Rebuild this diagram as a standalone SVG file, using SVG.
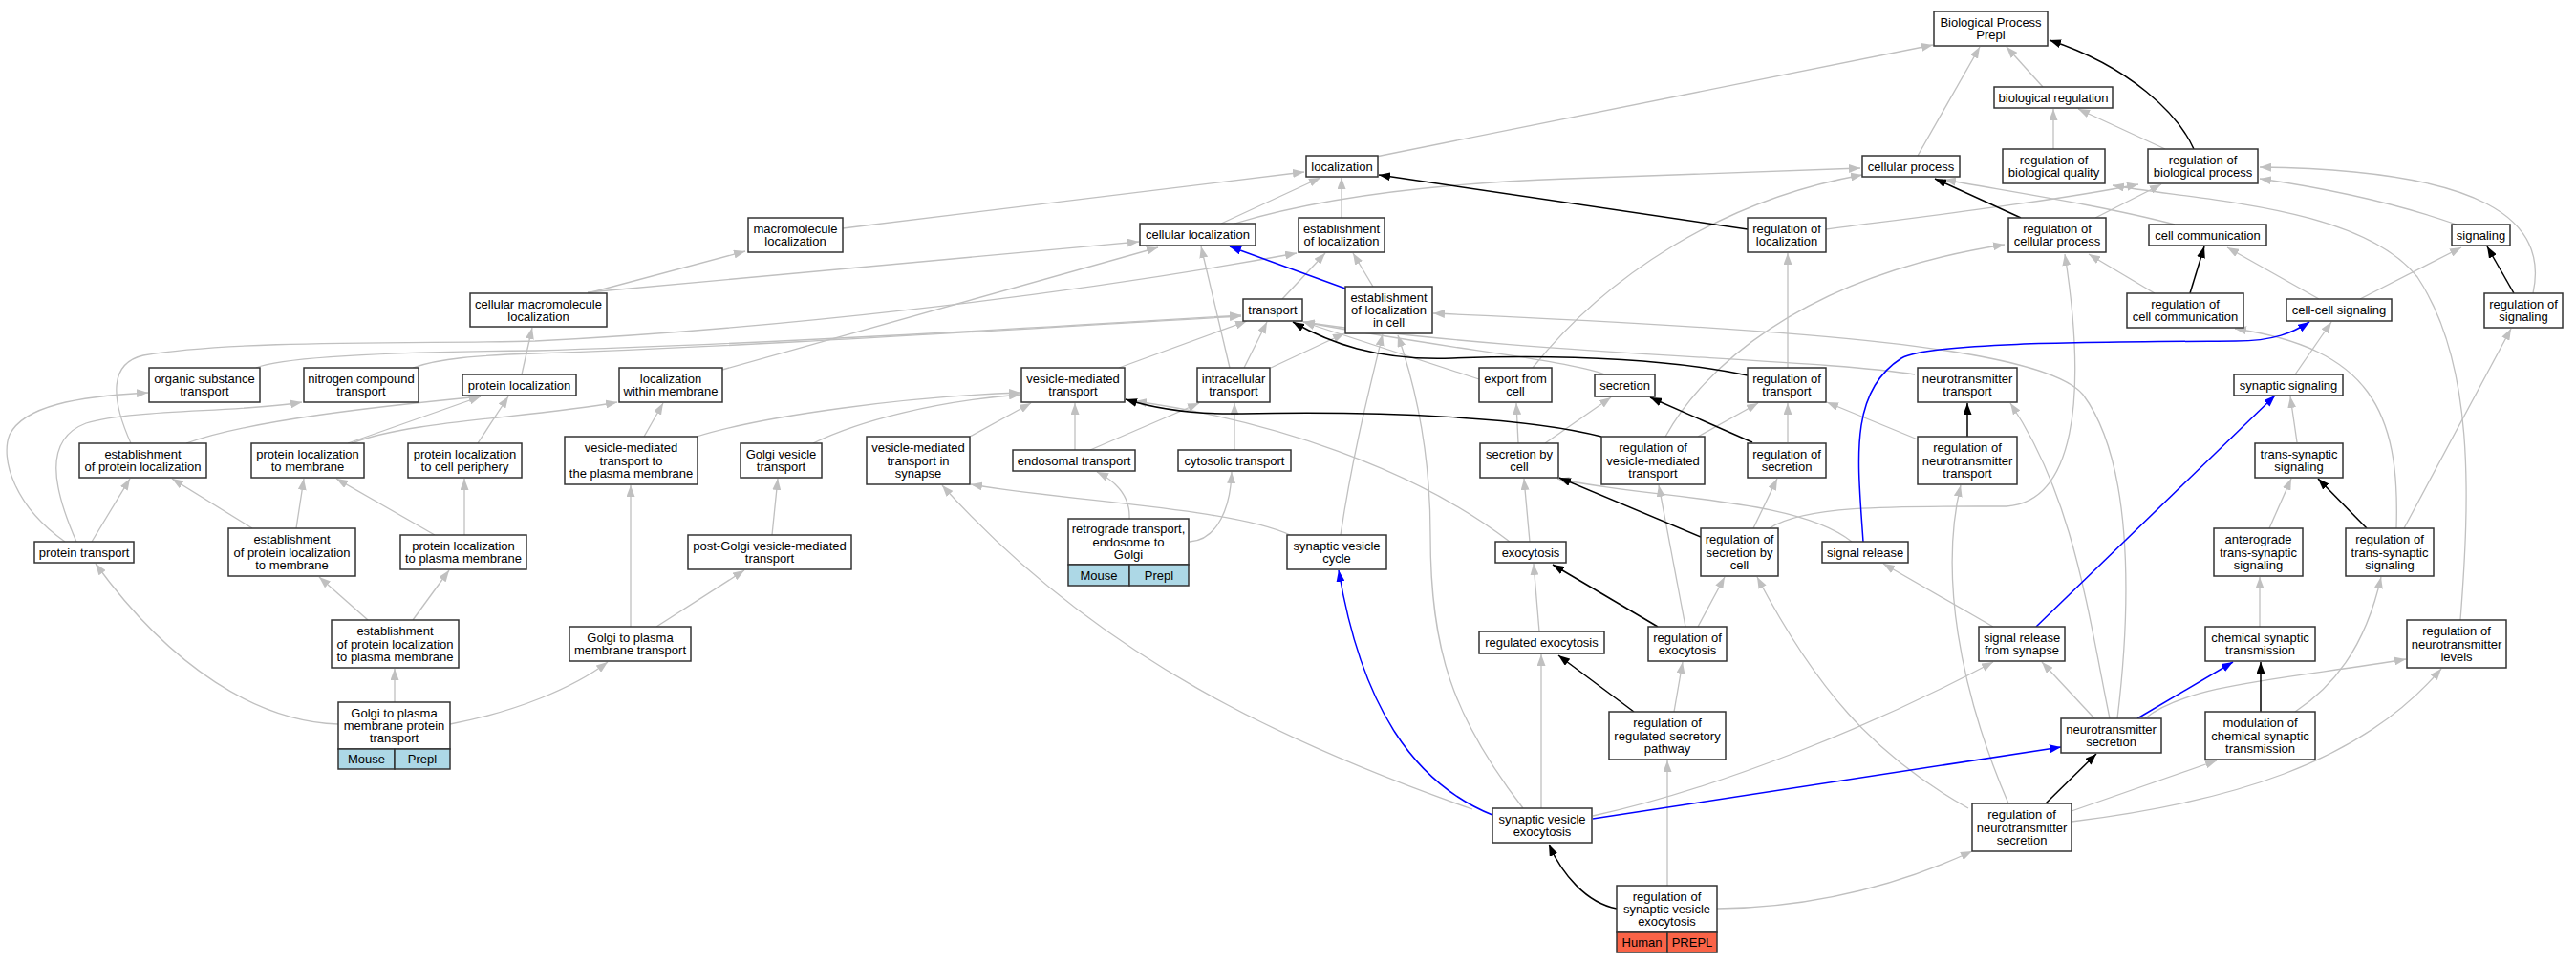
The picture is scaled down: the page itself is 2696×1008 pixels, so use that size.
<svg xmlns="http://www.w3.org/2000/svg" width="2696" height="1008" viewBox="0 0 2696 1008">
<defs>
<style>
.n rect{fill:#fff;stroke:#333;stroke-width:1.5}
.n rect.mb{fill:#add8e6}
.n rect.hr{fill:#fa6347}
text{font-family:"Liberation Sans",Arial,sans-serif;font-size:13px;text-anchor:middle;fill:#000}
#edges path{fill:none}
.g{stroke:#c0c0c0;stroke-width:1.3;marker-end:url(#ag)}
.k{stroke:#000;stroke-width:1.5;marker-end:url(#ak)}
.u{stroke:#0000ff;stroke-width:1.5;marker-end:url(#au)}
</style>
<marker id="ag" viewBox="0 0 12 9" refX="12" refY="4.5" markerUnits="userSpaceOnUse" markerWidth="12" markerHeight="9" orient="auto"><path d="M0,0L12,4.5L0,9z" fill="#c0c0c0"/></marker>
<marker id="ak" viewBox="0 0 12 9" refX="12" refY="4.5" markerUnits="userSpaceOnUse" markerWidth="12" markerHeight="9" orient="auto"><path d="M0,0L12,4.5L0,9z" fill="#000"/></marker>
<marker id="au" viewBox="0 0 12 9" refX="12" refY="4.5" markerUnits="userSpaceOnUse" markerWidth="12" markerHeight="9" orient="auto"><path d="M0,0L12,4.5L0,9z" fill="#0000ff"/></marker>
</defs>
<rect width="2696" height="1008" fill="#fff"/>
<g id="edges">
<path class="g" d="M1440,164L2023,47"/>
<path class="g" d="M2007,163L2072,49"/>
<path class="g" d="M2138,91L2100,49"/>
<path class="g" d="M2149,156L2149,114"/>
<path class="g" d="M2266,156L2175,114"/>
<path class="g" d="M882,239L1365,180"/>
<path class="g" d="M1278,234L1382,186"/>
<path class="g" d="M1404,228L1404,186"/>
<path class="g" d="M1292,234Q1420,195 1640,187L1947,176"/>
<path class="g" d="M2193,228L2262,193"/>
<path class="g" d="M1911,240C2050,222 2150,210 2238,193"/>
<path class="g" d="M2276,235C2200,215 2100,200 2035,188"/>
<path class="g" d="M2575,649C2585,520 2590,380 2530,290C2470,215 2300,210 2211,194"/>
<path class="g" d="M2651,307C2668,230 2600,178 2365,175"/>
<path class="g" d="M2571,235C2500,210 2420,195 2365,187"/>
<path class="g" d="M2255,307L2186,266"/>
<path class="g" d="M2427,313L2331,259"/>
<path class="g" d="M2470,313L2576,259"/>
<path class="g" d="M2402,392L2440,337"/>
<path class="g" d="M2404,463L2397,415"/>
<path class="g" d="M2375,553L2398,501"/>
<path class="g" d="M2508,553C2512,430 2480,365 2339,344"/>
<path class="g" d="M2516,553L2628,344"/>
<path class="g" d="M2365,656L2365,604"/>
<path class="g" d="M2402,745C2440,720 2475,680 2492,604"/>
<path class="g" d="M2245,752C2290,715 2400,710 2518,690"/>
<path class="g" d="M2192,752L2137,693"/>
<path class="g" d="M2168,849L2320,796"/>
<path class="g" d="M2168,860C2330,840 2470,800 2555,700"/>
<path class="g" d="M2086,656L1971,590"/>
<path class="g" d="M1667,854C1800,825 1960,760 2086,693"/>
<path class="g" d="M2060,846C1960,790 1900,720 1839,604"/>
<path class="g" d="M2102,841C2050,720 2030,600 2052,508"/>
<path class="g" d="M1797,951C1900,950 1990,925 2064,891"/>
<path class="g" d="M1745,927L1745,796"/>
<path class="g" d="M1613,846L1613,685"/>
<path class="g" d="M1752,745L1761,693"/>
<path class="g" d="M1611,661L1605,590"/>
<path class="g" d="M1777,656L1805,604"/>
<path class="g" d="M1764,656L1736,508"/>
<path class="g" d="M1601,567L1595,501"/>
<path class="g" d="M1938,567C1880,520 1720,522 1630,501"/>
<path class="g" d="M1589,464L1587,422"/>
<path class="g" d="M1617,464L1686,416"/>
<path class="g" d="M1835,553L1860,501"/>
<path class="g" d="M1548,397L1364,337"/>
<path class="g" d="M1680,392C1640,377 1520,366 1364,337"/>
<path class="g" d="M2004,392C1900,375 1600,372 1364,337"/>
<path class="g" d="M1852,553C1890,528 1990,530 2100,530C2170,525 2185,420 2161,266"/>
<path class="g" d="M1743,457C1780,390 1880,290 2098,256"/>
<path class="g" d="M1777,457L1840,422"/>
<path class="g" d="M1871,463L1871,422"/>
<path class="g" d="M2007,460L1912,421"/>
<path class="g" d="M1871,385L1871,265"/>
<path class="g" d="M1604,385C1680,290 1800,210 1949,183"/>
<path class="g" d="M1437,300L1416,265"/>
<path class="g" d="M1342,313L1387,265"/>
<path class="g" d="M1287,385L1257,258"/>
<path class="g" d="M1302,385L1326,337"/>
<path class="g" d="M1330,385L1407,349"/>
<path class="g" d="M1171,385L1305,336"/>
<path class="g" d="M1125,471L1125,422"/>
<path class="g" d="M1141,471L1255,422"/>
<path class="g" d="M1292,471L1292,422"/>
<path class="g" d="M1182,543C1183,520 1170,505 1148,494"/>
<path class="g" d="M1245,567C1275,565 1288,530 1289,494"/>
<path class="g" d="M1403,560C1415,480 1430,420 1447,350"/>
<path class="g" d="M1594,846C1520,750 1497,680 1497,560C1497,470 1480,400 1463,351"/>
<path class="g" d="M1350,560C1290,532 1120,525 1016,507"/>
<path class="g" d="M1541,847C1350,780 1150,690 986,508"/>
<path class="g" d="M2216,752C2232,620 2230,480 2180,413C2140,365 1900,345 1500,328"/>
<path class="g" d="M2208,752C2185,640 2170,520 2104,422"/>
<path class="g" d="M615,307L780,263"/>
<path class="g" d="M615,306L1192,253"/>
<path class="g" d="M756,387L1212,259"/>
<path class="g" d="M137,464C115,415 115,380 150,372C250,355 450,360 560,357C800,345 1100,312 1357,265"/>
<path class="g" d="M268,385C300,372 450,368 560,367C800,360 1050,345 1299,330"/>
<path class="g" d="M432,385C460,375 500,372 560,370C800,362 1050,345 1299,331"/>
<path class="g" d="M68,567C15,530 0,480 10,455C25,425 80,415 155,411"/>
<path class="g" d="M80,567C55,510 45,460 90,443C140,428 250,432 316,421"/>
<path class="g" d="M96,567L136,501"/>
<path class="g" d="M264,553L180,501"/>
<path class="g" d="M310,553L318,501"/>
<path class="g" d="M455,560L352,501"/>
<path class="g" d="M486,560L486,501"/>
<path class="g" d="M195,464C260,440 400,425 503,415"/>
<path class="g" d="M364,464L503,415"/>
<path class="g" d="M500,464L532,415"/>
<path class="g" d="M368,464C430,440 550,438 646,421"/>
<path class="g" d="M546,392L557,343"/>
<path class="g" d="M674,457L694,422"/>
<path class="g" d="M729,457C800,435 950,415 1068,411"/>
<path class="g" d="M851,464C900,440 980,420 1068,413"/>
<path class="g" d="M1015,457L1079,422"/>
<path class="g" d="M660,656L660,508"/>
<path class="g" d="M808,560L814,501"/>
<path class="g" d="M687,656L779,597"/>
<path class="g" d="M471,758C540,745 600,720 636,693"/>
<path class="g" d="M354,758C270,755 180,700 100,590"/>
<path class="g" d="M413,735L413,700"/>
<path class="g" d="M385,649L334,604"/>
<path class="g" d="M432,649L470,597"/>
<path class="g" d="M1580,567C1480,490 1330,440 1188,420"/>
<path class="k" d="M2296,156C2280,120 2230,70 2145,42"/>
<path class="k" d="M2115,228L2025,187"/>
<path class="k" d="M1829,240L1443,183"/>
<path class="k" d="M1829,393C1760,378 1650,370 1520,375C1440,378 1390,358 1353,337"/>
<path class="k" d="M1676,457C1600,437 1450,430 1300,433C1250,434 1210,428 1178,418"/>
<path class="k" d="M1834,463L1727,416"/>
<path class="k" d="M1780,562L1632,500"/>
<path class="k" d="M1735,656L1625,591"/>
<path class="k" d="M1710,745L1631,686"/>
<path class="k" d="M1692,951C1660,945 1635,915 1621,884"/>
<path class="k" d="M2059,457L2059,422"/>
<path class="k" d="M2141,841L2194,789"/>
<path class="k" d="M2366,745L2366,693"/>
<path class="k" d="M2477,553L2426,501"/>
<path class="k" d="M2631,307L2603,258"/>
<path class="k" d="M2292,307L2307,258"/>
<path class="u" d="M1408,302L1287,258"/>
<path class="u" d="M1562,853C1480,820 1425,740 1401,597"/>
<path class="u" d="M1667,857L2157,782"/>
<path class="u" d="M2237,752L2337,693"/>
<path class="u" d="M2131,656L2381,414"/>
<path class="u" d="M1950,567C1944,480 1935,410 1990,375C2020,358 2200,358 2340,357C2380,357 2400,348 2417,337"/>
</g>
<g id="bp" class="n"><rect x="2024" y="12" width="119" height="36"/><text x="2083.5" y="28">Biological Process</text><text x="2083.5" y="41.3">Prepl</text></g>
<g id="bioreg" class="n"><rect x="2087" y="91" width="124" height="22"/><text x="2149" y="106.6">biological regulation</text></g>
<g id="loc" class="n"><rect x="1367" y="163" width="75" height="22"/><text x="1404.5" y="178.6">localization</text></g>
<g id="cellproc" class="n"><rect x="1949" y="163" width="102" height="22"/><text x="2000" y="178.6">cellular process</text></g>
<g id="rbq" class="n"><rect x="2096" y="156" width="107" height="36"/><text x="2149.5" y="172">regulation of</text><text x="2149.5" y="185.3">biological quality</text></g>
<g id="rbp" class="n"><rect x="2248" y="156" width="115" height="36"/><text x="2305.5" y="172">regulation of</text><text x="2305.5" y="185.3">biological process</text></g>
<g id="macloc" class="n"><rect x="783" y="228" width="99" height="36"/><text x="832.5" y="244">macromolecule</text><text x="832.5" y="257.3">localization</text></g>
<g id="cellloc" class="n"><rect x="1193" y="234" width="121" height="23"/><text x="1253.5" y="250.1">cellular localization</text></g>
<g id="estloc" class="n"><rect x="1359" y="228" width="90" height="36"/><text x="1404" y="244">establishment</text><text x="1404" y="257.3">of localization</text></g>
<g id="regloc" class="n"><rect x="1829" y="228" width="82" height="36"/><text x="1870" y="244">regulation of</text><text x="1870" y="257.3">localization</text></g>
<g id="rcp" class="n"><rect x="2102" y="228" width="102" height="36"/><text x="2153" y="244">regulation of</text><text x="2153" y="257.3">cellular process</text></g>
<g id="cellcomm" class="n"><rect x="2249" y="235" width="123" height="22"/><text x="2310.5" y="250.6">cell communication</text></g>
<g id="signaling" class="n"><rect x="2566" y="235" width="61" height="22"/><text x="2596.5" y="250.6">signaling</text></g>
<g id="cmacloc" class="n"><rect x="492" y="307" width="143" height="35"/><text x="563.5" y="322.5">cellular macromolecule</text><text x="563.5" y="335.8">localization</text></g>
<g id="transport" class="n"><rect x="1301" y="313" width="62" height="23"/><text x="1332" y="329.1">transport</text></g>
<g id="eloccell" class="n"><rect x="1408" y="300" width="91" height="49"/><text x="1453.5" y="315.8">establishment</text><text x="1453.5" y="329.1">of localization</text><text x="1453.5" y="342.4">in cell</text></g>
<g id="rcc" class="n"><rect x="2226" y="307" width="122" height="36"/><text x="2287" y="323">regulation of</text><text x="2287" y="336.3">cell communication</text></g>
<g id="ccsig" class="n"><rect x="2393" y="313" width="110" height="23"/><text x="2448" y="329.1">cell-cell signaling</text></g>
<g id="regsig" class="n"><rect x="2600" y="307" width="82" height="36"/><text x="2641" y="323">regulation of</text><text x="2641" y="336.3">signaling</text></g>
<g id="orgsub" class="n"><rect x="156" y="385" width="116" height="36"/><text x="214" y="401">organic substance</text><text x="214" y="414.3">transport</text></g>
<g id="nitro" class="n"><rect x="318" y="385" width="120" height="36"/><text x="378" y="401">nitrogen compound</text><text x="378" y="414.3">transport</text></g>
<g id="protloc" class="n"><rect x="484" y="392" width="119" height="22"/><text x="543.5" y="407.6">protein localization</text></g>
<g id="locmem" class="n"><rect x="648" y="385" width="108" height="36"/><text x="702" y="401">localization</text><text x="702" y="414.3">within membrane</text></g>
<g id="vmt" class="n"><rect x="1069" y="385" width="108" height="36"/><text x="1123" y="401">vesicle-mediated</text><text x="1123" y="414.3">transport</text></g>
<g id="intra" class="n"><rect x="1253" y="385" width="76" height="36"/><text x="1291" y="401">intracellular</text><text x="1291" y="414.3">transport</text></g>
<g id="export" class="n"><rect x="1548" y="385" width="76" height="36"/><text x="1586" y="401">export from</text><text x="1586" y="414.3">cell</text></g>
<g id="secretion" class="n"><rect x="1669" y="392" width="63" height="23"/><text x="1700.5" y="408.1">secretion</text></g>
<g id="regtrans" class="n"><rect x="1829" y="385" width="82" height="36"/><text x="1870" y="401">regulation of</text><text x="1870" y="414.3">transport</text></g>
<g id="nttrans" class="n"><rect x="2007" y="385" width="104" height="36"/><text x="2059" y="401">neurotransmitter</text><text x="2059" y="414.3">transport</text></g>
<g id="synsig" class="n"><rect x="2338" y="392" width="114" height="22"/><text x="2395" y="407.6">synaptic signaling</text></g>
<g id="epl" class="n"><rect x="83" y="464" width="133" height="36"/><text x="149.5" y="480">establishment</text><text x="149.5" y="493.3">of protein localization</text></g>
<g id="plm" class="n"><rect x="263" y="464" width="118" height="36"/><text x="322" y="480">protein localization</text><text x="322" y="493.3">to membrane</text></g>
<g id="plcp" class="n"><rect x="427" y="464" width="119" height="36"/><text x="486.5" y="480">protein localization</text><text x="486.5" y="493.3">to cell periphery</text></g>
<g id="vmtpm" class="n"><rect x="591" y="457" width="139" height="50"/><text x="660.5" y="473.3">vesicle-mediated</text><text x="660.5" y="486.6">transport to</text><text x="660.5" y="499.9">the plasma membrane</text></g>
<g id="golgives" class="n"><rect x="775" y="464" width="85" height="36"/><text x="817.5" y="480">Golgi vesicle</text><text x="817.5" y="493.3">transport</text></g>
<g id="vmtsyn" class="n"><rect x="907" y="457" width="108" height="50"/><text x="961" y="473.3">vesicle-mediated</text><text x="961" y="486.6">transport in</text><text x="961" y="499.9">synapse</text></g>
<g id="endo" class="n"><rect x="1060" y="471" width="128" height="22"/><text x="1124" y="486.6">endosomal transport</text></g>
<g id="cyto" class="n"><rect x="1233" y="471" width="118" height="22"/><text x="1292" y="486.6">cytosolic transport</text></g>
<g id="secbycell" class="n"><rect x="1549" y="464" width="82" height="36"/><text x="1590" y="480">secretion by</text><text x="1590" y="493.3">cell</text></g>
<g id="regvmt" class="n"><rect x="1676" y="457" width="108" height="50"/><text x="1730" y="473.3">regulation of</text><text x="1730" y="486.6">vesicle-mediated</text><text x="1730" y="499.9">transport</text></g>
<g id="regsec" class="n"><rect x="1829" y="464" width="82" height="36"/><text x="1870" y="480">regulation of</text><text x="1870" y="493.3">secretion</text></g>
<g id="regntt" class="n"><rect x="2007" y="457" width="104" height="50"/><text x="2059" y="473.3">regulation of</text><text x="2059" y="486.6">neurotransmitter</text><text x="2059" y="499.9">transport</text></g>
<g id="transsyn" class="n"><rect x="2360" y="464" width="92" height="36"/><text x="2406" y="480">trans-synaptic</text><text x="2406" y="493.3">signaling</text></g>
<g id="prottrans" class="n"><rect x="36" y="567" width="104" height="22"/><text x="88" y="582.6">protein transport</text></g>
<g id="eplm" class="n"><rect x="239" y="553" width="133" height="50"/><text x="305.5" y="569.3">establishment</text><text x="305.5" y="582.6">of protein localization</text><text x="305.5" y="595.9">to membrane</text></g>
<g id="plpm" class="n"><rect x="419" y="560" width="132" height="36"/><text x="485" y="576">protein localization</text><text x="485" y="589.3">to plasma membrane</text></g>
<g id="postgolgi" class="n"><rect x="720" y="560" width="171" height="36"/><text x="805.5" y="576">post-Golgi vesicle-mediated</text><text x="805.5" y="589.3">transport</text></g>
<g id="retro" class="n"><rect x="1118" y="543" width="126" height="48"/><rect class="mb" x="1118" y="591" width="64" height="22"/><rect class="mb" x="1182" y="591" width="62" height="22"/><text x="1181" y="558.3">retrograde transport,</text><text x="1181" y="571.6">endosome to</text><text x="1181" y="584.9">Golgi</text><text x="1150" y="606.6">Mouse</text><text x="1213" y="606.6">Prepl</text></g>
<g id="svc" class="n"><rect x="1347" y="560" width="104" height="36"/><text x="1399" y="576">synaptic vesicle</text><text x="1399" y="589.3">cycle</text></g>
<g id="regsbc" class="n"><rect x="1780" y="553" width="81" height="50"/><text x="1820.5" y="569.3">regulation of</text><text x="1820.5" y="582.6">secretion by</text><text x="1820.5" y="595.9">cell</text></g>
<g id="sigrel" class="n"><rect x="1907" y="567" width="90" height="22"/><text x="1952" y="582.6">signal release</text></g>
<g id="antero" class="n"><rect x="2317" y="553" width="93" height="50"/><text x="2363.5" y="569.3">anterograde</text><text x="2363.5" y="582.6">trans-synaptic</text><text x="2363.5" y="595.9">signaling</text></g>
<g id="regtss" class="n"><rect x="2455" y="553" width="92" height="50"/><text x="2501" y="569.3">regulation of</text><text x="2501" y="582.6">trans-synaptic</text><text x="2501" y="595.9">signaling</text></g>
<g id="exo" class="n"><rect x="1565" y="567" width="74" height="22"/><text x="1602" y="582.6">exocytosis</text></g>
<g id="eplpm" class="n"><rect x="347" y="649" width="133" height="50"/><text x="413.5" y="665.3">establishment</text><text x="413.5" y="678.6">of protein localization</text><text x="413.5" y="691.9">to plasma membrane</text></g>
<g id="g2pm" class="n"><rect x="596" y="656" width="127" height="36"/><text x="659.5" y="672">Golgi to plasma</text><text x="659.5" y="685.3">membrane transport</text></g>
<g id="regexo" class="n"><rect x="1548" y="661" width="131" height="23"/><text x="1613.5" y="677.1">regulated exocytosis</text></g>
<g id="rexo" class="n"><rect x="1725" y="656" width="82" height="36"/><text x="1766" y="672">regulation of</text><text x="1766" y="685.3">exocytosis</text></g>
<g id="srfs" class="n"><rect x="2071" y="656" width="90" height="36"/><text x="2116" y="672">signal release</text><text x="2116" y="685.3">from synapse</text></g>
<g id="cst" class="n"><rect x="2308" y="656" width="115" height="36"/><text x="2365.5" y="672">chemical synaptic</text><text x="2365.5" y="685.3">transmission</text></g>
<g id="rntl" class="n"><rect x="2519" y="649" width="104" height="50"/><text x="2571" y="665.3">regulation of</text><text x="2571" y="678.6">neurotransmitter</text><text x="2571" y="691.9">levels</text></g>
<g id="g2pmpt" class="n"><rect x="354" y="735" width="117" height="49"/><rect class="mb" x="354" y="784" width="59" height="21"/><rect class="mb" x="413" y="784" width="58" height="21"/><text x="412.5" y="750.8">Golgi to plasma</text><text x="412.5" y="764.1">membrane protein</text><text x="412.5" y="777.4">transport</text><text x="383.5" y="799">Mouse</text><text x="442" y="799">Prepl</text></g>
<g id="rrsp" class="n"><rect x="1684" y="745" width="122" height="50"/><text x="1745" y="761.3">regulation of</text><text x="1745" y="774.6">regulated secretory</text><text x="1745" y="787.9">pathway</text></g>
<g id="ntsec" class="n"><rect x="2157" y="752" width="105" height="36"/><text x="2209.5" y="768">neurotransmitter</text><text x="2209.5" y="781.3">secretion</text></g>
<g id="mcst" class="n"><rect x="2308" y="745" width="115" height="50"/><text x="2365.5" y="761.3">modulation of</text><text x="2365.5" y="774.6">chemical synaptic</text><text x="2365.5" y="787.9">transmission</text></g>
<g id="sve" class="n"><rect x="1562" y="846" width="104" height="36"/><text x="1614" y="862">synaptic vesicle</text><text x="1614" y="875.3">exocytosis</text></g>
<g id="rnts" class="n"><rect x="2064" y="841" width="104" height="50"/><text x="2116" y="857.3">regulation of</text><text x="2116" y="870.6">neurotransmitter</text><text x="2116" y="883.9">secretion</text></g>
<g id="rsve" class="n"><rect x="1692" y="927" width="105" height="49"/><rect class="hr" x="1692" y="976" width="53" height="21"/><rect class="hr" x="1745" y="976" width="52" height="21"/><text x="1744.5" y="942.8">regulation of</text><text x="1744.5" y="956.1">synaptic vesicle</text><text x="1744.5" y="969.4">exocytosis</text><text x="1718.5" y="991">Human</text><text x="1771" y="991">PREPL</text></g>
</svg>
